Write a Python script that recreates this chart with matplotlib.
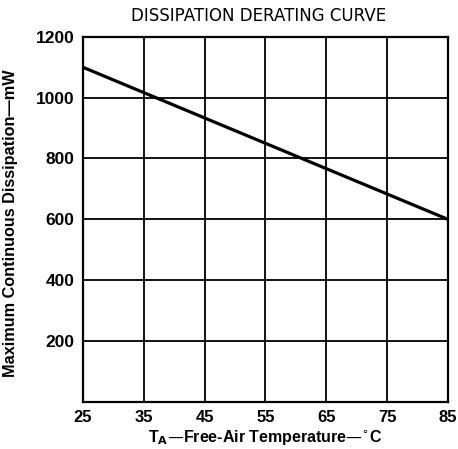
import matplotlib
matplotlib.use("Agg")
import matplotlib.pyplot as plt

# data
temps = [25, 85]
dissipation = [1100, 600]

x_ticks = [25, 35, 45, 55, 65, 75, 85]
y_ticks = [200, 400, 600, 800, 1000, 1200]

plt.rcParams['font.family'] = ['Liberation Sans', 'DejaVu Sans']

fig = plt.figure(figsize=(4.58, 4.49), dpi=100)
ax = fig.add_axes([0.181, 0.105, 0.797, 0.813])

ax.plot(temps, dissipation, color='black', linewidth=2.3, solid_capstyle='butt')

ax.set_xlim(25, 85)
ax.set_ylim(0, 1200)
ax.set_xticks(x_ticks)
ax.set_yticks(y_ticks)
ax.set_xticklabels([str(t) for t in x_ticks], fontweight='bold', fontsize=12)
ax.set_yticklabels([str(t) for t in y_ticks], fontweight='bold', fontsize=12.5)
ax.tick_params(axis='x', length=0, pad=6)
ax.tick_params(axis='y', length=0, pad=6)
ax.grid(True, color='black', linewidth=1.3)
for s in ax.spines.values():
    s.set_linewidth(1.6)

ax.set_xlabel(r'T$_{\mathbf{A}}$—Free-Air Temperature—$^{\circ}$C', fontweight='bold', fontsize=11.5)
ax.xaxis.set_label_coords(0.5, -0.071)
ax.set_ylabel('Maximum Continuous Dissipation—mW', fontweight='bold', fontsize=11.7)
ax.yaxis.set_label_coords(-0.178, 0.49)
fig.text(0.565, 0.965, 'DISSIPATION DERATING CURVE', ha='center', va='center',
         fontsize=12, family='DejaVu Sans')

fig.savefig('out.png', dpi=100, facecolor='white')
